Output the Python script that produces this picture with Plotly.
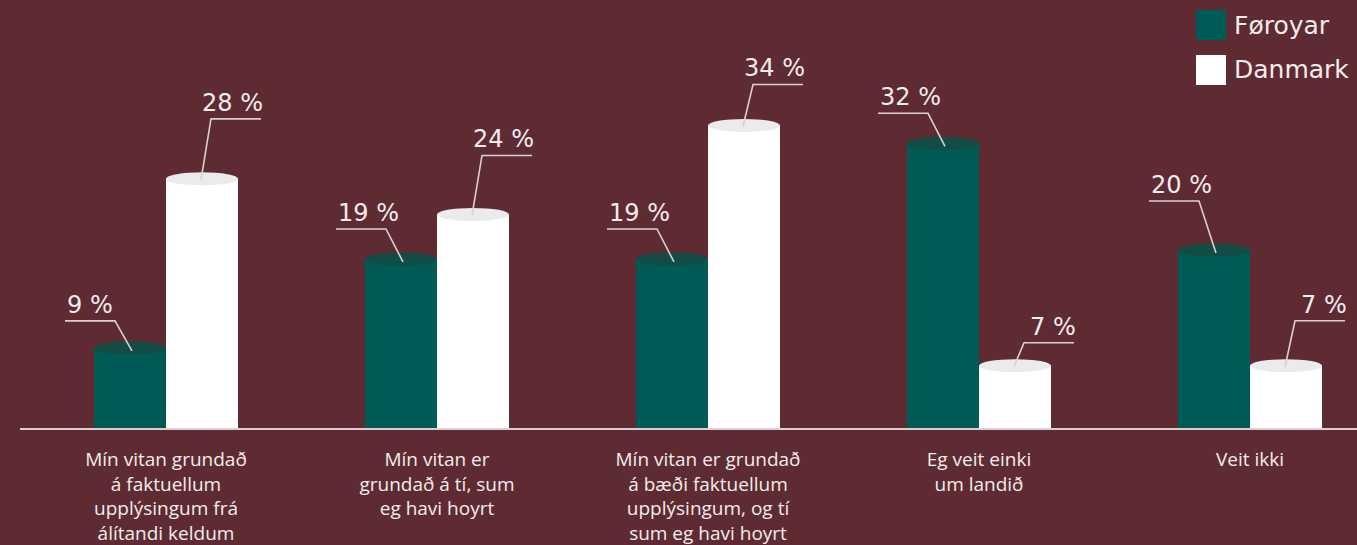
import plotly.graph_objects as go

# ---------------- data ----------------
categories = [
    "Mín vitan grundað<br>á faktuellum<br>upplýsingum frá<br>álítandi keldum",
    "Mín vitan er<br>grundað á tí, sum<br>eg havi hoyrt",
    "Mín vitan er grundað<br>á bæði faktuellum<br>upplýsingum, og tí<br>sum eg havi hoyrt",
    "Eg veit einki<br>um landið",
    "Veit ikki",
]
series_names = ["Føroyar", "Danmark"]
foroyar = [9, 19, 19, 32, 20]
danmark = [28, 24, 34, 7, 7]

# ---------------- style ----------------
BG = "#5e2b33"
TEAL = "#005a56"
TEAL_TOP = "#124c45"
WHITE = "#ffffff"
WHITE_TOP = "#ebebeb"
TEXT = "#f3ecec"
LINE = "#d9d0d1"
LABEL_FONT = "DejaVu Sans, Lato, sans-serif"

W, H = 1357, 545
ML, MR, MT, MB = 20, 0, 0, 117
BAR_W = 0.2657
X_RANGE = [-0.5387, 4.3948]
Y_RANGE = [0, 48.1]

# leader-line elbow rise (pixels above bar top), per label
rise_f = [27, 30, 30, 30, 49]
rise_d = [60, 59, 41, 23, 45]
SEG = 50  # horizontal segment length (px)

fig = go.Figure()
fig.add_trace(go.Bar(x=list(range(len(categories))), y=foroyar, name=series_names[0],
                     marker=dict(color=TEAL, line=dict(width=0)),
                     width=BAR_W, offset=-BAR_W, hoverinfo="y"))
fig.add_trace(go.Bar(x=list(range(len(categories))), y=danmark, name=series_names[1],
                     marker=dict(color=WHITE, line=dict(width=0)),
                     width=BAR_W, offset=0, hoverinfo="y"))

shapes = []
annotations = []

def add_cyl_top_and_label(v, cx, top_color, rise, side):
    # ellipse top of the cylinder
    shapes.append(dict(type="circle", xref="x", yref="y",
                       x0=cx - BAR_W / 2, x1=cx + BAR_W / 2,
                       ysizemode="pixel", yanchor=v, y0=-6.5, y1=6.5,
                       fillcolor=top_color, line=dict(width=0), layer="above"))
    if side == "left":
        px, py, ex = 2, -3, -15
        hx = ex - SEG
    else:
        px, py, ex = -1, -1, 9
        hx = ex + SEG
    path = f"M{px},{py} L{ex},{rise} L{hx},{rise}"
    shapes.append(dict(type="path", xref="x", yref="y",
                       xsizemode="pixel", ysizemode="pixel",
                       xanchor=cx, yanchor=v, path=path,
                       line=dict(color=LINE, width=1.6), layer="above"))
    annotations.append(dict(x=cx, y=v, xref="x", yref="y", showarrow=False,
                            text=f"{v} %",
                            xanchor="left" if side == "left" else "right",
                            yanchor="bottom",
                            xshift=hx if side == "left" else hx + 4,
                            yshift=rise,
                            font=dict(family=LABEL_FONT, size=24, color=TEXT)))

for i, (vf, vd) in enumerate(zip(foroyar, danmark)):
    add_cyl_top_and_label(vf, i - BAR_W / 2, TEAL_TOP, rise_f[i], "left")
    add_cyl_top_and_label(vd, i + BAR_W / 2, WHITE_TOP, rise_d[i], "right")

# custom legend (large squares)
pw = W - ML - MR
ph = H - MT - MB
def px2paper_x(p):
    return (p - ML) / pw
def px2paper_y(p):
    return (H - MB - p) / ph

for k, (nm, col) in enumerate(zip(series_names, [TEAL, WHITE])):
    top = 10 + 45 * k
    shapes.append(dict(type="rect", xref="paper", yref="paper",
                       x0=px2paper_x(1196), x1=px2paper_x(1226),
                       y0=px2paper_y(top + 30), y1=px2paper_y(top),
                       fillcolor=col, line=dict(width=0)))
    annotations.append(dict(xref="paper", yref="paper", x=px2paper_x(1232),
                            y=px2paper_y(top + 15), text=nm, showarrow=False,
                            xanchor="left", yanchor="middle",
                            font=dict(family=LABEL_FONT, size=25, color=TEXT)))

fig.update_layout(
    width=W, height=H,
    margin=dict(l=ML, r=MR, t=MT, b=MB),
    paper_bgcolor=BG, plot_bgcolor=BG,
    showlegend=False,
    shapes=shapes, annotations=annotations,
    bargap=0.47, bargroupgap=0,
    xaxis=dict(range=X_RANGE, tickmode="array",
               tickvals=list(range(len(categories))), ticktext=categories,
               showgrid=False, zeroline=False, automargin=False,
               showline=True, linecolor=LINE, linewidth=2,
               ticks="outside", ticklen=13, tickcolor="rgba(0,0,0,0)",
               tickfont=dict(family="Open Sans, sans-serif", size=19, color=TEXT)),
    yaxis=dict(range=Y_RANGE, visible=False, showgrid=False, zeroline=False,
               automargin=False),
)

fig.write_html("out.html", config={"displayModeBar": False},
               post_script="document.body.style.margin='0';document.body.style.background='%s';" % BG)
